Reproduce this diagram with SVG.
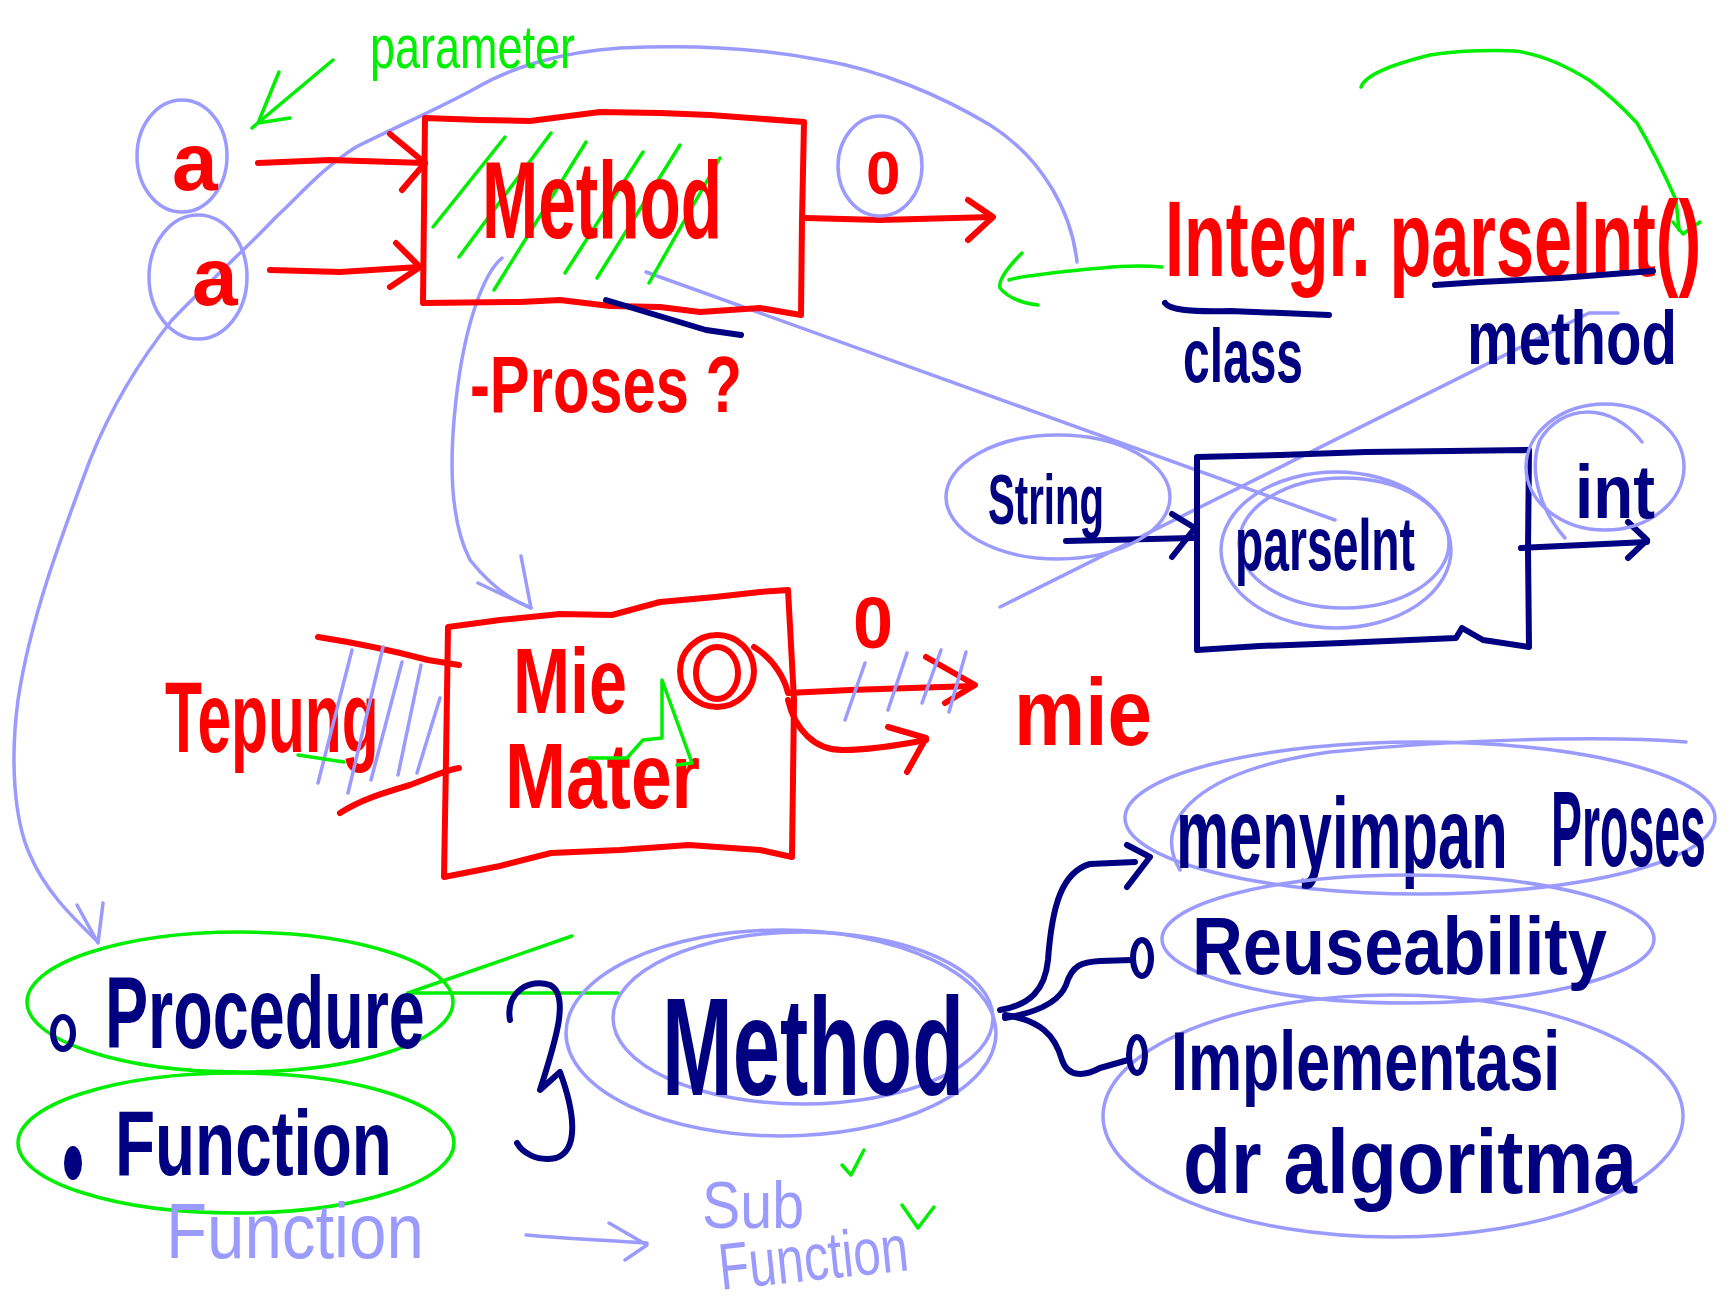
<svg xmlns="http://www.w3.org/2000/svg" width="1731" height="1312" viewBox="0 0 1731 1312">
<style>
.r{fill:none;stroke:#ff0000;stroke-width:6;stroke-linecap:round;stroke-linejoin:round}
.n{fill:none;stroke:#000080;stroke-width:6;stroke-linecap:round;stroke-linejoin:round}
.g{fill:none;stroke:#00ee00;stroke-width:3.5;stroke-linecap:round;stroke-linejoin:round}
.b{fill:none;stroke:#9b9bff;stroke-width:3.5;stroke-linecap:round;stroke-linejoin:round}
text{font-family:"Liberation Sans",Arial,sans-serif}
.tr{fill:#ff0000;font-weight:bold}
.tn{fill:#000080;font-weight:bold}
.tg{fill:#00ee00}
.tb{fill:#9b9bff}
</style>
<rect width="1731" height="1312" fill="#ffffff"/>

<!-- connectors -->
<g id="connectors">
  <path class="b" d="M1077,262 C1072,215 1045,160 990,125 C940,95 880,70 821,60 C770,50 700,44 620,48 C560,52 510,68 476,88 C440,108 400,125 356,147 C320,170 300,195 276,217 C250,245 200,290 172,320 C140,360 110,410 90,460 C60,540 30,620 18,700 C10,760 14,820 30,855 C45,890 70,915 98,942"/>
  <polyline class="b" points="77,905 98,943 103,903"/>
  <path class="b" d="M502,258 C485,272 465,320 456,400 C448,470 452,525 470,560 C490,585 510,600 531,608"/>
  <polyline class="b" points="478,583 531,608 521,556"/>
  <line class="b" x1="646" y1="272" x2="1335" y2="520"/>
  <polyline class="b" points="1000,607 1589,313 1618,313"/>
  <path class="r" d="M258,163 L330,160 L425,163"/>
  <polyline class="r" points="390,134 425,163 402,190"/>
  <path class="r" d="M270,270 L340,272 L419,267"/>
  <polyline class="r" points="396,243 420,267 390,287"/>
  <path class="r" d="M806,218 L880,220 L992,217"/>
  <polyline class="r" points="968,200 993,217 968,240"/>
  <line class="g" x1="333" y1="60" x2="252" y2="128"/>
  <polyline class="g" points="279,72 258,123 290,118"/>
  <path class="g" d="M1162,267 C1130,264 1100,268 1060,272 C1040,275 1020,276 1009,280"/>
  <path class="g" d="M1022,253 C1010,265 998,280 1000,288 C1008,298 1022,303 1038,305"/>
  <path class="g" d="M1361,87 C1365,75 1390,65 1430,55 C1460,50 1500,50 1515,51 C1540,54 1565,65 1589,80 C1610,95 1625,110 1637,123 C1650,145 1665,175 1676,200 L1679,230"/>
  <polyline class="g" points="1673,222 1683,234 1700,222"/>
  <line class="n" x1="1066" y1="541" x2="1193" y2="538"/>
  <polyline class="n" points="1172,514 1195,528 1172,557"/>
  <line class="n" x1="1521" y1="548" x2="1647" y2="542"/>
  <polyline class="n" points="1628,522 1647,540 1628,558"/>
  <path class="r" d="M318,637 C350,642 383,648 428,660 L459,665"/>
  <path class="r" d="M340,813 C360,800 383,793 410,785 C430,778 445,770 459,768"/>
  <path class="r" d="M754,647 C775,660 785,680 788,693 L850,690 L972,686"/>
  <polyline class="r" points="926,657 975,685 945,703"/>
  <path class="r" d="M788,700 C795,730 815,750 842,750 C870,750 900,745 926,740"/>
  <polyline class="r" points="888,727 926,738 907,772"/>
  <path class="b" d="M526,1235 C560,1238 600,1240 647,1243"/>
  <polyline class="b" points="609,1223 647,1245 625,1260"/>
  <line class="g" x1="408" y1="993" x2="572" y2="936"/>
  <line class="g" x1="408" y1="993" x2="618" y2="993"/>
  <path class="n" d="M1000,1010 C1030,1005 1045,990 1048,960 C1052,905 1062,872 1090,864 L1135,862"/>
  <polyline class="n" points="1127,845 1150,857 1127,887"/>
  <path class="n" d="M1005,1018 C1040,1012 1060,1000 1066,985 C1072,965 1082,962 1100,961 L1132,960"/>
  <path class="n" d="M1005,1015 C1040,1020 1055,1035 1062,1060 C1068,1078 1085,1076 1100,1068 L1128,1060"/>
</g>

<g id="method-top">
  <path class="r" d="M425,118 L480,120 L530,121 L600,112 L660,113 L710,115 L804,122 L802,220 L801,315 L760,308 L700,312 L660,307 L610,306 L560,300 L520,302 L423,303 L425,118 Z"/>
  <g class="g">
    <line x1="433" y1="227" x2="505" y2="137"/>
    <line x1="459" y1="257" x2="551" y2="133"/>
    <line x1="494" y1="290" x2="586" y2="142"/>
    <line x1="565" y1="273" x2="643" y2="152"/>
    <line x1="597" y1="278" x2="680" y2="145"/>
    <line x1="649" y1="283" x2="720" y2="158"/>
  </g>
  <text class="tr" font-size="110" transform="translate(482,238) scale(0.614,1)">Method</text>
  <path class="n" d="M606,300 L706,330 L741,335" stroke-width="7"/>
  <text class="tr" font-size="80" transform="translate(470,412) scale(0.746,1)">-Proses ?</text>
</g>

<g id="param-label">
  <text class="tg" font-size="62" transform="translate(370,68) scale(0.726,1)">parameter</text>
</g>

<g id="input-a1">
  <ellipse class="b" cx="182" cy="156" rx="45" ry="56"/>
  <text class="tr" x="172" y="190" font-size="82">a</text>
</g>
<g id="input-a2">
  <ellipse class="b" cx="198" cy="277" rx="49" ry="62"/>
  <text class="tr" x="192" y="305" font-size="82">a</text>
</g>
<g id="output-o">
  <ellipse class="b" cx="880" cy="166" rx="42" ry="50"/>
  <text class="tr" x="866" y="194" font-size="62">0</text>
</g>

<g id="integer-parseint">
  <text class="tr" font-size="108" transform="translate(1165,276) scale(0.634,1)">Integr. parseInt()</text>
  <path class="n" d="M1165,303 C1170,310 1190,312 1230,311 L1329,315" stroke-width="7"/>
  <path class="n" d="M1435,285 L1480,282 L1560,278 L1653,271" stroke-width="7"/>
  <text class="tn" font-size="76" transform="translate(1183,382) scale(0.631,1)">class</text>
  <text class="tn" font-size="76" transform="translate(1467,364) scale(0.765,1)">method</text>
</g>

<g id="parseint-box">
  <path class="n" d="M1197,457 L1280,455 L1366,452 L1450,451 L1529,450 L1528,550 L1529,647 L1483,640 L1462,628 L1456,638 L1342,643 L1260,646 L1197,650 L1197,457 Z"/>
  <ellipse class="b" cx="1336" cy="550" rx="115" ry="78"/>
  <ellipse class="b" cx="1344" cy="543" rx="105" ry="65"/>
  <text class="tn" font-size="76" transform="translate(1235,570) scale(0.609,1)">parseInt</text>
</g>
<g id="string-in">
  <ellipse class="b" cx="1058" cy="497" rx="112" ry="62"/>
  <text class="tn" font-size="70" transform="translate(988,524) scale(0.574,1)">String</text>
</g>
<g id="int-out">
  <ellipse class="b" cx="1605" cy="467" rx="79" ry="63"/>
  <path class="b" d="M1565,538 C1540,510 1528,470 1540,440 C1560,405 1610,400 1642,442"/>
  <text class="tn" font-size="76" transform="translate(1575,518) scale(0.861,1)">int</text>
</g>

<g id="mie-mater">
  <path class="r" d="M448,627 L500,620 L560,614 L612,615 L660,602 L715,597 L760,592 L788,590 L794,700 L792,857 L760,850 L689,845 L620,850 L551,853 L500,866 L444,877 L446,760 L448,627 Z"/>
  <text class="tr" font-size="92" transform="translate(513,713) scale(0.743,1)">Mie</text>
  <text class="tr" font-size="92" transform="translate(505,808) scale(0.795,1)">Mater</text>
  <ellipse class="r" cx="717" cy="671" rx="37" ry="36"/>
  <ellipse class="r" cx="717" cy="673" rx="21" ry="26"/>
  <polyline class="g" points="589,758 627,758 643,740 662,738 662,680 692,763 677,765"/>
</g>

<g id="tepung">
  <text class="tr" font-size="100" transform="translate(165,752) scale(0.604,1)">Tepung</text>
  <g class="b" stroke-width="2.5">
    <line x1="352" y1="650" x2="318" y2="783"/>
    <line x1="383" y1="647" x2="348" y2="793"/>
    <line x1="402" y1="662" x2="371" y2="780"/>
    <line x1="421" y1="665" x2="398" y2="775"/>
    <line x1="440" y1="698" x2="417" y2="773"/>
  </g>
  <line class="g" x1="298" y1="755" x2="344" y2="762"/>
</g>

<g id="mie-out">
  <text class="tr" x="853" y="648" font-size="72">0</text>
  <text class="tr" font-size="95" transform="translate(1014,745) scale(0.843,1)">mie</text>
  <g class="b" stroke-width="2.5">
    <line x1="865" y1="663" x2="845" y2="720"/>
    <line x1="907" y1="653" x2="888" y2="710"/>
    <line x1="941" y1="650" x2="922" y2="703"/>
    <line x1="966" y1="652" x2="949" y2="712"/>
  </g>
</g>

<g id="procedure">
  <ellipse class="g" cx="240" cy="1002" rx="213" ry="70"/>
  <ellipse class="n" cx="63" cy="1033" rx="10" ry="16" stroke-width="5"/>
  <text class="tn" font-size="102" transform="translate(105,1048) scale(0.634,1)">Procedure</text>
</g>
<g id="function">
  <ellipse class="g" cx="236" cy="1143" rx="218" ry="70"/>
  <ellipse cx="73" cy="1163" rx="9" ry="17" fill="#000080"/>
  <text class="tn" font-size="92" transform="translate(115,1175) scale(0.713,1)">Function</text>
  <text class="tb" font-size="78" transform="translate(166,1258) scale(0.862,1)">Function</text>
</g>

<g id="brace">
  <path class="n" d="M510,1020 C505,992 530,978 550,985 C570,995 556,1040 540,1090 L560,1072 C574,1110 580,1150 556,1158 C536,1162 522,1152 517,1143"/>
</g>

<g id="method-bottom">
  <ellipse class="b" cx="781" cy="1033" rx="215" ry="103"/>
  <ellipse class="b" cx="803" cy="1018" rx="190" ry="86"/>
  <text class="tn" font-size="140" transform="translate(662,1095) scale(0.607,1)">Method</text>
</g>

<g id="sub-function">
  <text class="tb" font-size="66" transform="translate(702,1228) scale(0.869,1)">Sub</text>
  <text class="tb" font-size="66" transform="translate(721,1290) rotate(-6) scale(0.751,1)">Function</text>
  <polyline class="g" points="842,1165 851,1175 864,1150"/>
  <polyline class="g" points="902,1205 918,1228 934,1207"/>
</g>

<g id="menyimpan">
  <ellipse class="b" cx="1420" cy="818" rx="295" ry="76"/>
  <path class="b" d="M1180,870 C1150,820 1200,770 1330,752 C1450,740 1600,735 1686,742"/>
  <text class="tn" font-size="100" transform="translate(1176,868) scale(0.597,1)">menyimpan</text>
  <text class="tn" font-size="108" transform="translate(1551,866) scale(0.43,1)">Proses</text>
</g>
<g id="reuseability">
  <ellipse class="b" cx="1408" cy="939" rx="246" ry="64"/>
  <ellipse class="n" cx="1142" cy="958" rx="9" ry="18" stroke-width="5"/>
  <text class="tn" font-size="82" transform="translate(1192,974) scale(0.859,1)">Reuseability</text>
</g>
<g id="implementasi">
  <ellipse class="b" cx="1393" cy="1116" rx="290" ry="121"/>
  <ellipse class="n" cx="1137" cy="1055" rx="8" ry="18" stroke-width="5"/>
  <text class="tn" font-size="84" transform="translate(1171,1090) scale(0.725,1)">Implementasi</text>
  <text class="tn" font-size="90" transform="translate(1183,1193) scale(0.873,1)">dr algoritma</text>
</g>
</svg>
